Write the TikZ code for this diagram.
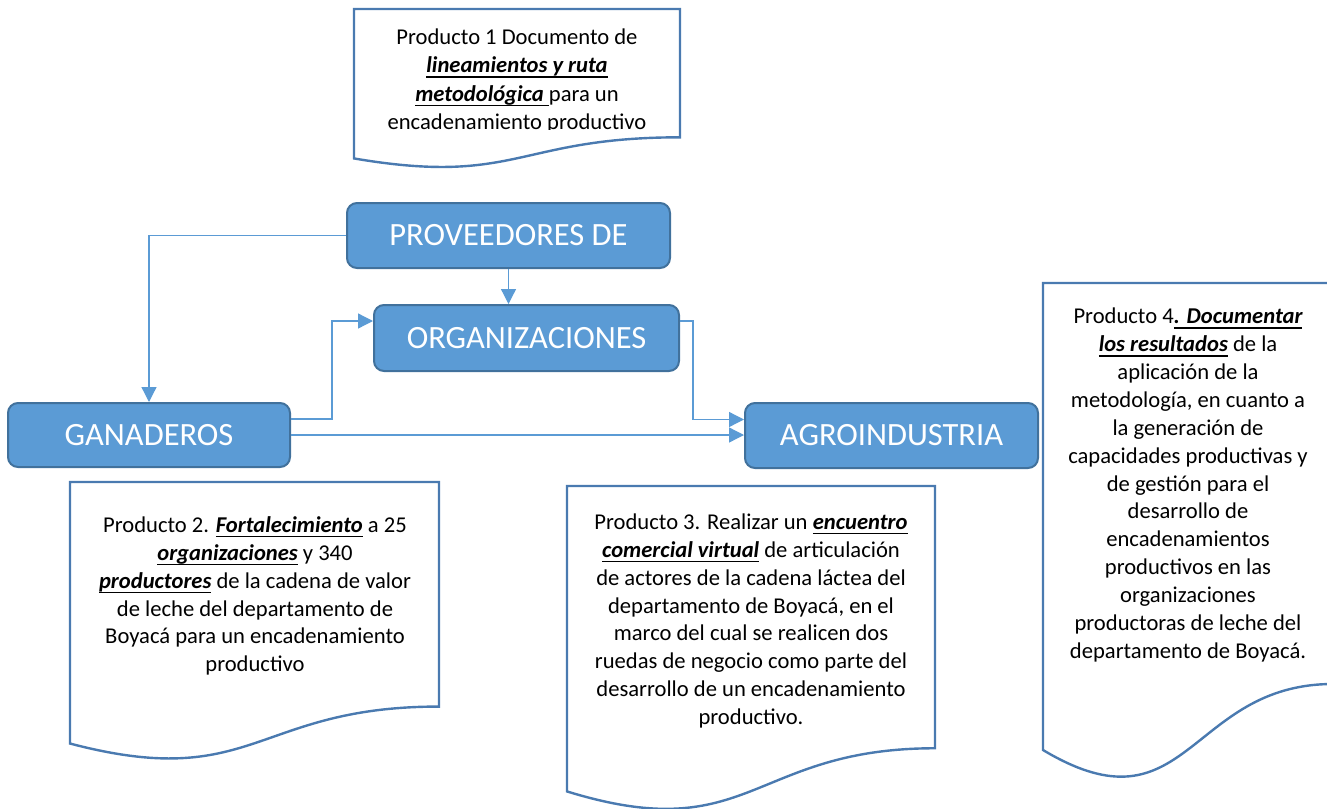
\documentclass[tikz,border=0pt]{standalone}
\usepackage{fontspec}
\setmainfont{Carlito}
\usetikzlibrary{arrows.meta}
\definecolor{cajaazul}{HTML}{5B9BD5}
\definecolor{bordeazul}{HTML}{41719C}
\definecolor{lineahoja}{HTML}{4A7AB0}
\definecolor{conector}{HTML}{5B9BD5}
\newsavebox{\cajasub}
\newcommand{\resalta}[1]{{\bfseries\itshape\sbox{\cajasub}{#1}%
  \rlap{\rule[-5pt]{\wd\cajasub}{1.4pt}}\usebox{\cajasub}}}
\newcommand{\hoja}[4]{%
  \draw[hoja] (#1,#2) -- ({#1+#3},#2) -- ({#1+#3},{#2+0.802*#4})
    .. controls ({#1+0.5*#3},{#2+0.802*#4}) and ({#1+0.5*#3},{#2+1.1075*#4}) .. (#1,{#2+0.934*#4}) -- cycle;}
\tikzset{
  caja/.style={draw=bordeazul, line width=2pt, fill=cajaazul, rounded corners=10pt,
    text=white, font=\fontsize{32.5}{38}\selectfont, inner sep=0pt},
  hoja/.style={draw=lineahoja, line width=2.4pt, fill=white},
  texto/.style={align=center, inner sep=0pt, font=\fontsize{22.6}{27.9}\selectfont},
  conn/.style={draw=conector, line width=1.3pt, -{Triangle[length=15pt,width=15pt]}},
}

\begin{document}
\begin{tikzpicture}[x=1pt,y=-1pt]
                    \useasboundingbox (0,0) rectangle (1327,808);
                    \hoja{354}{9}{326}{160}
                    \hoja{70}{482}{369}{280}
                    \hoja{567}{486}{368}{327}
                    \hoja{1043}{283}{290}{500}
                    \begin{scope}
                        \clip (354,9) rectangle (680,129.5);
                        \node[texto, font=\fontsize{22.6}{28.6}\selectfont] (p1) at (517,81) {Producto 1 Documento de\\
                            \resalta{lineamientos y ruta}\\
                            \resalta{metodológica }para un\\
                            encadenamiento productivo};
                    \end{scope}
                    \node[texto] (p2) at (255,596) {Producto 2. \resalta{Fortalecimiento} a 25\\
                        \resalta{organizaciones} y 340\\
                        \resalta{productores} de la cadena de valor\\
                        de leche del departamento de\\
                        Boyacá para un encadenamiento\\
                        productivo};
                    \node[texto] (p3) at (751,621) {Producto 3. Realizar un \resalta{encuentro}\\
                        \resalta{comercial virtual} de articulación\\
                        de actores de la cadena láctea del\\
                        departamento de Boyacá, en el\\
                        marco del cual se realicen dos\\
                        ruedas de negocio como parte del\\
                        desarrollo de un encadenamiento\\
                        productivo.};
                    \node[texto] (p4) at (1188,485) {Producto 4\resalta{. Documentar}\\
                        \resalta{los resultados} de la\\
                        aplicación de la\\
                        metodología, en cuanto a\\
                        la generación de\\
                        capacidades productivas y\\
                        de gestión para el\\
                        desarrollo de\\
                        encadenamientos\\
                        productivos en las\\
                        organizaciones\\
                        productoras de leche del\\
                        departamento de Boyacá.};
                    \node[caja, minimum width=323pt, minimum height=65pt] (prov) at (508.5,235.5) {PROVEEDORES DE};
                    \node[caja, minimum width=305pt, minimum height=66pt] (org) at (526.5,338) {ORGANIZACIONES};
                    \node[caja, minimum width=282pt, minimum height=64pt] (gan) at (149,435) {GANADEROS};
                    \node[caja, minimum width=293pt, minimum height=65pt] (agro) at (891.5,435.5) {AGROINDUSTRIA};
                    \draw[conn] (prov.west) -| (gan.north);
                    \draw[conn] (prov.south) -- (prov.south |- org.north);
                    \draw[conn] ([yshift=16pt]gan.east) -- ++(41,0) |- ([yshift=17pt]org.west);
                    \draw[conn] (gan.east) -- (gan.east -| agro.west);
                    \draw[conn] ([yshift=17pt]org.east) -- ++(13,0) |- ([yshift=16pt]agro.west);
                \end{tikzpicture}
\end{document}
